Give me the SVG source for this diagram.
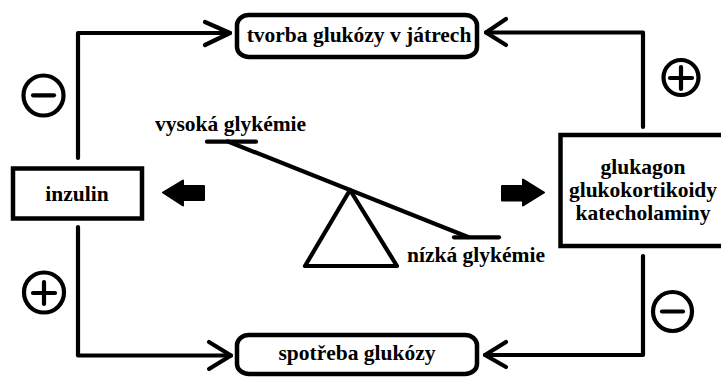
<svg xmlns="http://www.w3.org/2000/svg" width="721" height="378" viewBox="0 0 721 378">
<style>
.t{font-family:'Liberation Serif',Tinos,'DejaVu Serif',serif;font-weight:700;font-size:21.5px;fill:#000}
.m{text-anchor:middle}
.ln{fill:none;stroke:#000;stroke-width:4.2;stroke-linecap:round;stroke-linejoin:round}
.bx{fill:#fff;stroke:#000;stroke-width:4.5}
.fat{fill:#000;stroke:#000;stroke-width:2;stroke-linejoin:round}
</style>
<rect width="721" height="378" fill="#fff"/>
<g id="connectors">
  <path class="ln" d="M78,158 V33 H230"/>
  <path class="ln" d="M205,22 L230,33 L205,45"/>
  <path class="ln" d="M78,227 V355.5 H231"/>
  <path class="ln" d="M209,342 L231,355.5 L209,369"/>
  <path class="ln" d="M643,127 V32.5 H486"/>
  <path class="ln" d="M506,19 L486,32.5 L506,45"/>
  <path class="ln" d="M643,256 V355 H485"/>
  <path class="ln" d="M506,342 L485,355 L506,367"/>
</g>
<g id="sign-minus-top-left">
  <circle class="ln" cx="43.5" cy="95.5" r="20"/>
  <path class="ln" d="M33,95.3 H54"/>
</g>
<g id="sign-plus-bottom-left">
  <circle class="ln" cx="44" cy="292.5" r="20"/>
  <path class="ln" d="M33,293 H55 M44,282 V304"/>
</g>
<g id="sign-plus-top-right">
  <circle class="ln" cx="681" cy="77.5" r="17.5"/>
  <path class="ln" d="M670,78 H692 M681,67 V89"/>
</g>
<g id="sign-minus-bottom-right">
  <circle class="ln" cx="672.5" cy="311.5" r="19.5"/>
  <path class="ln" d="M662,311.5 H683"/>
</g>
<g id="tvorba">
  <rect class="bx" x="237" y="15" width="240" height="42" rx="12" ry="10"/>
  <text class="t m" x="359" y="42" font-family="'Liberation Serif', serif">tvorba glukózy v játrech</text>
</g>
<g id="spotreba">
  <rect class="bx" x="237" y="335" width="240" height="39" rx="12" ry="10"/>
  <text class="t m" x="357" y="360">spotřeba glukózy</text>
</g>
<g id="inzulin">
  <rect class="bx" x="13" y="168.5" width="129" height="50"/>
  <text class="t m" x="77" y="200.5">inzulin</text>
</g>
<g id="hormony">
  <rect class="bx" x="560.5" y="135" width="175" height="111"/>
  <text class="t m" x="643" y="173.5">glukagon</text>
  <text class="t m" x="643" y="197">glukokortikoidy</text>
  <text class="t m" x="643" y="220">katecholaminy</text>
</g>
<g id="arrow-left">
  <polygon class="fat" points="163,192.5 183,180.5 183,186 204,186 204,200 183,200 183,205.5"/>
</g>
<g id="arrow-right">
  <polygon class="fat" points="502,186 523,186 523,179.5 544,192.5 523,205.5 523,200.5 502,200.5"/>
</g>
<g id="vahy">
  <path class="ln" d="M207,141.7 H256"/>
  <path class="ln" d="M228,141.5 L468,237"/>
  <path class="ln" d="M454,237.3 H499"/>
  <polygon class="ln" points="350,190 305,266 397,266"/>
  <text class="t" x="155" y="131">vysoká glykémie</text>
  <text class="t" x="407" y="262">nízká glykémie</text>
</g>
</svg>
